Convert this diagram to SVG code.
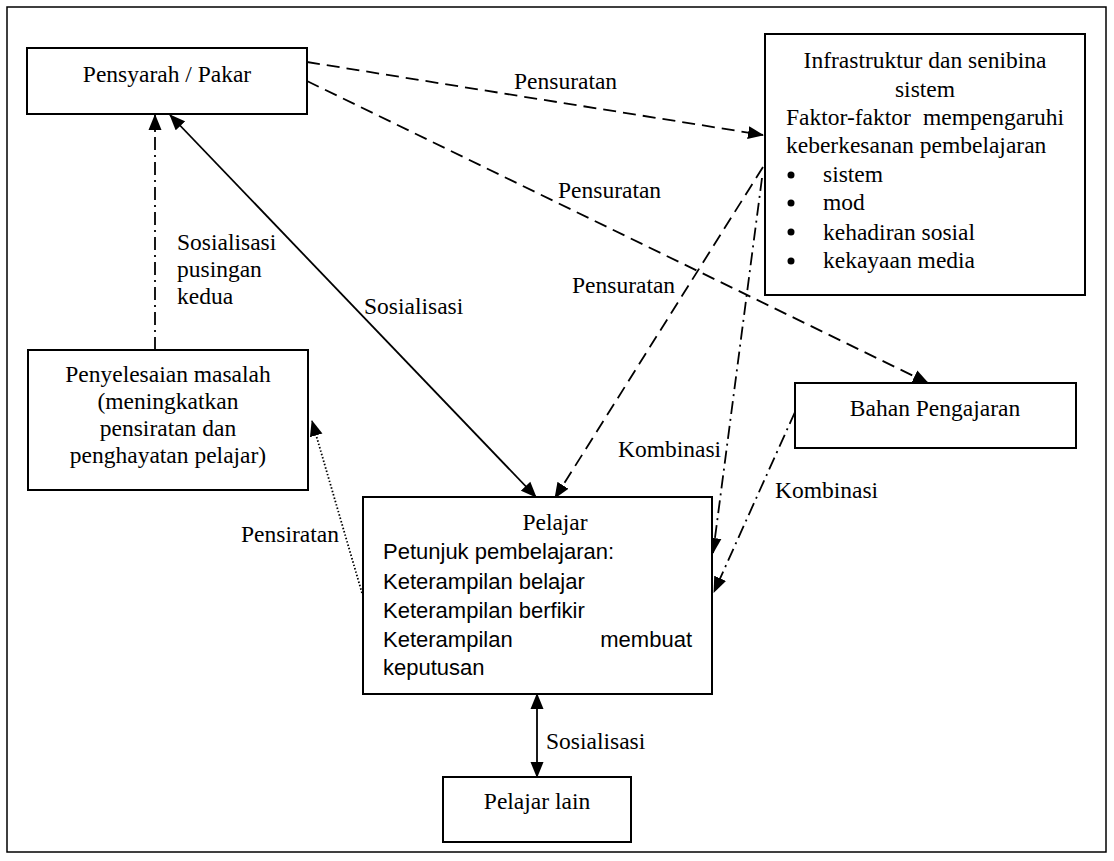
<svg xmlns="http://www.w3.org/2000/svg" width="1114" height="861" viewBox="0 0 1114 861">
<defs>
<marker id="ah" markerUnits="userSpaceOnUse" markerWidth="16" markerHeight="14" refX="15" refY="7" orient="auto-start-reverse">
<path d="M0,0.5 L16,7 L0,13.5 z" fill="#000"/>
</marker>
<style>
.box{fill:#fff;stroke:#000;stroke-width:2}
.t{font-family:"Liberation Serif","Times New Roman",serif;font-size:23.5px;fill:#000}
.s{font-family:"Liberation Sans",Arial,sans-serif;font-size:22px;fill:#000}
.c{text-anchor:middle}
.e{text-anchor:end}
.ln{fill:none;stroke:#000;stroke-width:1.8}
.dash{stroke-dasharray:13 7}
.dd{stroke-dasharray:13 5 2 5}
.dot{stroke-dasharray:1.5 2}
</style>
</defs>
<rect x="7" y="7" width="1099" height="845" fill="#fff" stroke="#000" stroke-width="1.5"/>

<g id="connectors">
<line class="ln dash" x1="307" y1="62" x2="763" y2="135" marker-end="url(#ah)"/>
<line class="ln dash" x1="307" y1="81" x2="928" y2="383" marker-end="url(#ah)"/>
<line class="ln dash" x1="763" y1="167" x2="555" y2="498" marker-end="url(#ah)"/>
<line class="ln dd" x1="762" y1="178" x2="713" y2="553" marker-end="url(#ah)"/>
<line class="ln dd" x1="795" y1="412" x2="714" y2="592" marker-end="url(#ah)"/>
<line class="ln" x1="170" y1="115" x2="536" y2="497" marker-start="url(#ah)" marker-end="url(#ah)"/>
<line class="ln dd" x1="155" y1="350" x2="155" y2="115" marker-end="url(#ah)"/>
<line class="ln dot" x1="362" y1="593" x2="312" y2="421" marker-end="url(#ah)"/>
<line class="ln" x1="537" y1="694" x2="537" y2="777" marker-start="url(#ah)" marker-end="url(#ah)"/>
<text class="t" x="514" y="89">Pensuratan</text>
<text class="t" x="558" y="198">Pensuratan</text>
<text class="t" x="572" y="293">Pensuratan</text>
<text class="t" x="177" y="250">Sosialisasi</text>
<text class="t" x="177" y="277">pusingan</text>
<text class="t" x="177" y="304">kedua</text>
<text class="t" x="364" y="314">Sosialisasi</text>
<text class="t" x="618" y="457">Kombinasi</text>
<text class="t" x="775" y="498">Kombinasi</text>
<text class="t" x="241" y="542">Pensiratan</text>
<text class="t" x="546" y="749">Sosialisasi</text>
</g>

<g id="pensyarah">
<rect class="box" x="27" y="48" width="280" height="66"/>
<text class="t c" x="167" y="82">Pensyarah / Pakar</text>
</g>

<g id="infrastruktur">
<rect class="box" x="765" y="34" width="320" height="261"/>
<text class="t c" x="925" y="68">Infrastruktur dan senibina</text>
<text class="t c" x="925" y="97">sistem</text>
<text class="t" x="786" y="125">Faktor-faktor</text>
<text class="t e" x="1064" y="125">mempengaruhi</text>
<text class="t" x="786" y="153">keberkesanan pembelajaran</text>
<circle cx="791" cy="175" r="3.5"/>
<text class="t" x="823" y="182">sistem</text>
<circle cx="791" cy="203" r="3.5"/>
<text class="t" x="823" y="210">mod</text>
<circle cx="791" cy="232" r="3.5"/>
<text class="t" x="823" y="240">kehadiran sosial</text>
<circle cx="791" cy="261" r="3.5"/>
<text class="t" x="823" y="268">kekayaan media</text>
</g>

<g id="penyelesaian">
<rect class="box" x="28" y="350" width="280" height="140"/>
<text class="t c" x="168" y="382">Penyelesaian masalah</text>
<text class="t c" x="168" y="409">(meningkatkan</text>
<text class="t c" x="168" y="436">pensiratan dan</text>
<text class="t c" x="168" y="463">penghayatan pelajar)</text>
</g>

<g id="bahan">
<rect class="box" x="795" y="383" width="281" height="65"/>
<text class="t c" x="935" y="416">Bahan Pengajaran</text>
</g>

<g id="pelajar">
<rect class="box" x="363" y="497" width="349" height="197"/>
<text class="t c" x="555" y="530">Pelajar</text>
<text class="s" x="383" y="559">Petunjuk pembelajaran:</text>
<text class="s" x="383" y="589">Keterampilan belajar</text>
<text class="s" x="383" y="618">Keterampilan berfikir</text>
<text class="s" x="383" y="647">Keterampilan</text>
<text class="s e" x="692" y="647">membuat</text>
<text class="s" x="383" y="675">keputusan</text>
</g>

<g id="pelajar-lain">
<rect class="box" x="443" y="777" width="188" height="65"/>
<text class="t c" x="537" y="809">Pelajar lain</text>
</g>
</svg>
